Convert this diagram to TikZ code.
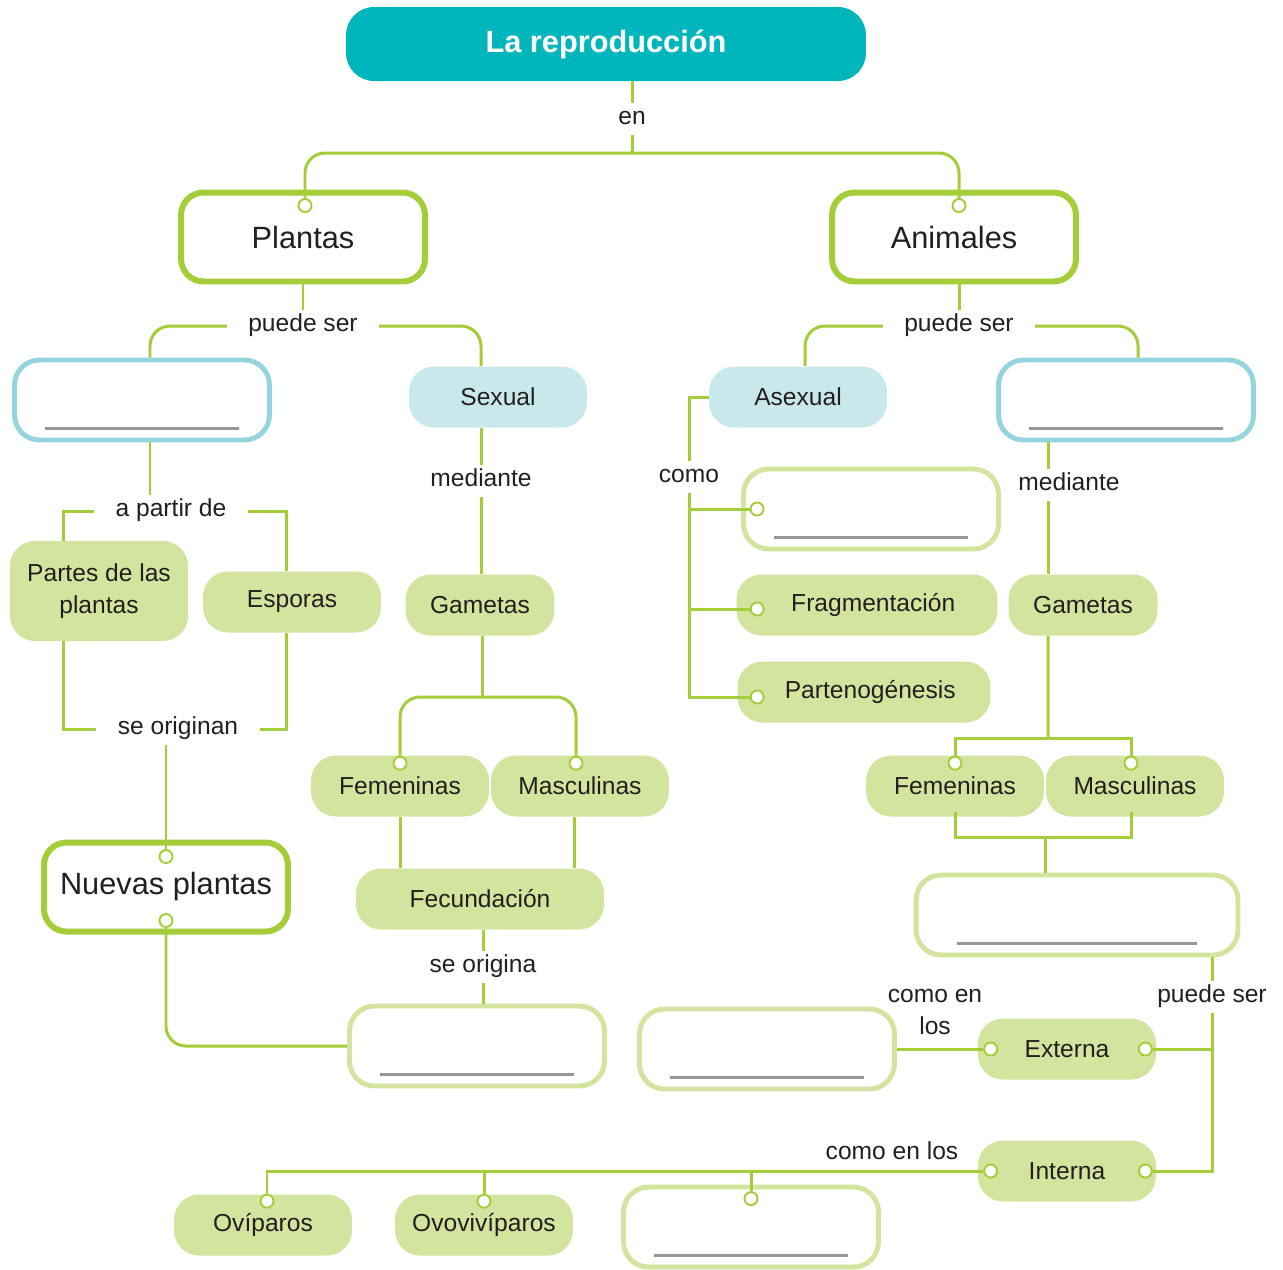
\documentclass[tikz,border=0pt]{standalone}
\usepackage{fontspec}
\setmainfont{Liberation Sans}
\usepackage{xcolor}
\usepackage{tikz}
\usetikzlibrary{positioning}

\definecolor{titlecol}{RGB}{0,182,189}
\definecolor{linecol}{RGB}{165,205,57}
\definecolor{fillgreen}{RGB}{210,228,158}
\definecolor{fillblue}{RGB}{201,232,235}
\definecolor{edgeblue}{RGB}{148,212,220}
\definecolor{blankedge}{RGB}{210,228,158}
\definecolor{blankgray}{RGB}{150,150,152}
\definecolor{inkcol}{RGB}{35,31,32}

\begin{document}
\begin{tikzpicture}[x=0.02cm,y=-0.02cm,
    every node/.append style={text=inkcol},
    link/.style={draw=linecol,line width=1.7pt},
    soft/.style={link,rounded corners=0.4cm},
    titlebox/.style={fill=titlecol,rounded corners=0.56cm,minimum width=10.4cm,minimum height=1.48cm,
      text=white,font=\bfseries\fontsize{17.5}{20}\selectfont},
    mainbox/.style={draw=linecol,line width=3.4pt,fill=white,rounded corners=0.45cm,
      minimum width=4.88cm,minimum height=1.78cm,font=\fontsize{17.5}{20}\selectfont},
    termbox/.style={fill=fillgreen,rounded corners=0.5cm,minimum width=3.56cm,minimum height=1.22cm,
      font=\fontsize{14}{18.5}\selectfont,align=center},
    kindbox/.style={termbox,fill=fillblue},
    bluebox/.style={draw=edgeblue,line width=2.8pt,fill=white,rounded corners=0.5cm,
      minimum width=5.1cm,minimum height=1.6cm},
    blankbox/.style={bluebox,draw=blankedge},
    pin/.style={circle,draw=linecol,fill=white,line width=1.1pt,inner sep=0pt,minimum size=0.26cm},
    lbl/.style={font=\fontsize{14}{16.5}\selectfont,inner xsep=0.42cm,inner ysep=4pt,
      text height=1.6ex,text depth=.35ex,align=center,yshift=-0.06cm},
    gapline/.style={draw=blankgray,line width=1.5pt}
  ]
  \useasboundingbox (0,0) rectangle (1283,1269);

  % top
  \node[titlebox] (title) at (606,44) {La reproducción};
  \node[lbl] (en) at (632,116) {en};
  \coordinate (split) at (632,153);
  \node[mainbox] (plantas) at (303,237) {Plantas};
  \node[mainbox] (animales) at (954,237) {Animales};
  \node[pin] (pPl) at ([xshift=0.04cm,yshift=-0.32cm]plantas.north) {};
  \node[pin] (pAn) at ([xshift=0.1cm,yshift=-0.32cm]animales.north) {};

  % plants
  \node[lbl] (ps1) at (303,323) {puede ser};
  \node[bluebox] (genL) at (142,400) {};
  \node[kindbox] (sexual) at (498,397) {Sexual};
  \node[lbl] (apartir) at (171,508) {a partir de};
  \node[termbox,minimum height=2cm] (partes) at (99,591) {Partes de las\\plantas};
  \node[termbox] (esporas) at (292,602) {Esporas};
  \node[lbl] (seorig) at (178,726) {se originan};
  \node[mainbox] (nuevas) at (166,887) {Nuevas plantas};
  \node[pin] (pNu1) at ([yshift=-0.34cm]nuevas.north) {};
  \node[pin] (pNu2) at ([yshift=0.28cm]nuevas.south) {};

  \node[lbl] (med1) at (481,478) {mediante};
  \node[termbox,minimum width=2.98cm] (gam1) at (480,605) {Gametas};
  \node[termbox] (fem1) at (400,786) {Femeninas};
  \node[termbox] (mas1) at (580,786) {Masculinas};
  \node[pin] (pFem1) at ([yshift=-0.16cm]fem1.north) {};
  \node[pin] (pMas1) at ([xshift=-0.08cm,yshift=-0.16cm]mas1.north) {};
  \node[termbox,minimum width=4.96cm] (fecund) at (480,899) {Fecundación};
  \node[lbl] (seo) at (483,964) {se origina};
  \node[blankbox] (blank1) at (477,1046) {};

  % animals
  \node[lbl] (ps2) at (959,323) {puede ser};
  \node[kindbox] (asexual) at (798,397) {Asexual};
  \node[bluebox] (genR) at (1126,400) {};
  \node[lbl] (como) at (689,474) {como};
  \node[blankbox] (blank2) at (871,509) {};
  \node[termbox,minimum width=5.22cm] (frag) at (867,605) {\hspace*{0.25cm}Fragmentación};
  \node[termbox,minimum width=5.06cm] (parten) at (864,692) {\hspace*{0.25cm}Partenogénesis};
  \node[pin] (pBl2) at ([xshift=0.32cm]blank2.west) {};
  \node[pin] (pFrag) at ([xshift=0.42cm,yshift=-0.08cm]frag.west) {};
  \node[pin] (pPar) at ([xshift=0.4cm,yshift=-0.1cm]parten.west) {};

  \node[lbl] (med2) at (1069,482) {mediante};
  \node[termbox,minimum width=2.98cm] (gam2) at (1083,605) {Gametas};
  \node[termbox] (fem2) at (955,786) {Femeninas};
  \node[termbox] (mas2) at (1135,786) {Masculinas};
  \node[pin] (pFem2) at ([yshift=-0.16cm]fem2.north) {};
  \node[pin] (pMas2) at ([xshift=-0.08cm,yshift=-0.16cm]mas2.north) {};
  \node[blankbox,minimum width=6.44cm] (blank3) at (1077,915) {};
  \node[lbl] (ps3) at (1212,994) {puede ser};
  \node[termbox] (externa) at (1067,1049) {Externa};
  \node[termbox] (interna) at (1067,1171) {Interna};
  \node[pin] (pExL) at ([xshift=0.26cm]externa.west) {};
  \node[pin] (pExR) at ([xshift=-0.22cm]externa.east) {};
  \node[pin] (pInL) at ([xshift=0.26cm]interna.west) {};
  \node[pin] (pInR) at ([xshift=-0.22cm]interna.east) {};
  \node[blankbox] (blank4) at (767,1049) {};
  \node[lbl,font=\fontsize{14}{18.5}\selectfont] (comoen1) at (935,1026) {como en\\los};
  \node[lbl] (comoen2) at (892,1151) {como en los};
  \node[termbox] (ovip) at (263,1225) {Ovíparos};
  \node[termbox] (ovov) at (484,1225) {Ovovivíparos};
  \node[blankbox] (blank5) at (751,1227) {};
  \node[pin] (pOvi) at ([xshift=0.08cm,yshift=-0.14cm]ovip.north) {};
  \node[pin] (pOvo) at ([yshift=-0.14cm]ovov.north) {};
  \node[pin] (pBl5) at ([yshift=-0.28cm]blank5.north) {};

  % blank lines to write on
  \foreach \b/\m in {genL/0.66cm,genR/0.66cm,blank1/0.66cm,blank2/0.66cm,blank3/0.86cm,blank4/0.66cm,blank5/0.66cm}
    \draw[gapline] ([xshift=\m,yshift=0.28cm]\b.south west) -- ([xshift=-\m,yshift=0.28cm]\b.south east);

  % shifted points for vertical links
  \coordinate (vL) at ([xshift=0.16cm]genL.south);
  \coordinate (vPartes) at ([xshift=-0.72cm]partes.north);
  \coordinate (vEsp) at ([xshift=-0.12cm]esporas.north);
  \coordinate (vMas) at ([xshift=-0.12cm]mas1.south);
  \coordinate (vAsex) at ([xshift=0.14cm]asexual.north);
  \coordinate (vGenR) at ([xshift=0.24cm]genR.north);
  \coordinate (vR) at ([xshift=-0.7cm]gam2.north);
  \coordinate (fork1) at (482,697);
  \coordinate (fork2) at (1048,738);
  \coordinate (join2) at (1045,837);

  % links, top
  \draw[link] (title.south -| en) -- (en);
  \draw[link] (en) -- (split);
  \draw[soft] (split) -| (pPl);
  \draw[soft] (split) -| (pAn);

  % links, plants
  \draw[link] (plantas.south -| ps1) -- (ps1);
  \draw[soft] (ps1.west) -| ([xshift=0.16cm]genL.north);
  \draw[soft] (ps1.east) -| (sexual.north -| med1);
  \draw[link] (vL) -- (vL |- apartir.north);
  \draw[link] (apartir.west) -| (vPartes);
  \draw[link] (apartir.east) -| (vEsp);
  \draw[link] (vPartes |- partes.south) |- (seorig.west);
  \draw[link] (vEsp |- esporas.south) |- (seorig.east);
  \draw[link] (seorig.south -| pNu1) -- (pNu1);
  \draw[soft] (pNu2) |- (blank1.west);

  \draw[link] (sexual.south -| med1) -- (med1);
  \draw[link] (med1) -- (med1 |- gam1.north);
  \draw[link] (gam1.south -| fork1) -- (fork1);
  \draw[soft] (fork1) -| (pFem1);
  \draw[soft] (fork1) -| (pMas1);
  \draw[link] (fem1.south) -- (fem1.south |- fecund.north);
  \draw[link] (vMas) -- (vMas |- fecund.north);
  \draw[link] (fecund.south -| seo) -- (seo);
  \draw[link] (seo) -- (seo |- blank1.north);

  % links, animals
  \draw[link] (animales.south -| ps2) -- (ps2);
  \draw[soft] (ps2.west) -| (vAsex);
  \draw[soft] (ps2.east) -| (vGenR);
  \draw[link] (asexual.west) -| (como.north);
  \draw[link] (como.south) |- (pPar);
  \draw[link] (como.south |- pBl2) -- (pBl2);
  \draw[link] (como.south |- pFrag) -- (pFrag);

  \draw[link] (vR |- genR.south) -- (vR |- med2.north);
  \draw[link] (vR |- med2.south) -- (vR);
  \draw[link] (vR |- gam2.south) -- (fork2);
  \draw[link] (fork2) -| (pFem2);
  \draw[link] (fork2) -| (pMas2);
  \draw[link] ([yshift=0.1cm]fem2.south -| pFem2) |- (join2) -| ([yshift=0.1cm]mas2.south -| pMas2);
  \draw[link] (join2) -- (join2 |- blank3.north);
  \draw[link] (blank3.south -| ps3) -- (ps3);
  \draw[link] (ps3.south) |- (pInR);
  \draw[link] (ps3.south |- pExR) -- (pExR);
  \draw[link] (pExL) -- (blank4.east);
  \draw[link] (pInL) -| (pOvi);
  \draw[link] (pOvo |- pInL) -- (pOvo);
  \draw[link] (pBl5 |- pInL) -- (pBl5);
\end{tikzpicture}
\end{document}
